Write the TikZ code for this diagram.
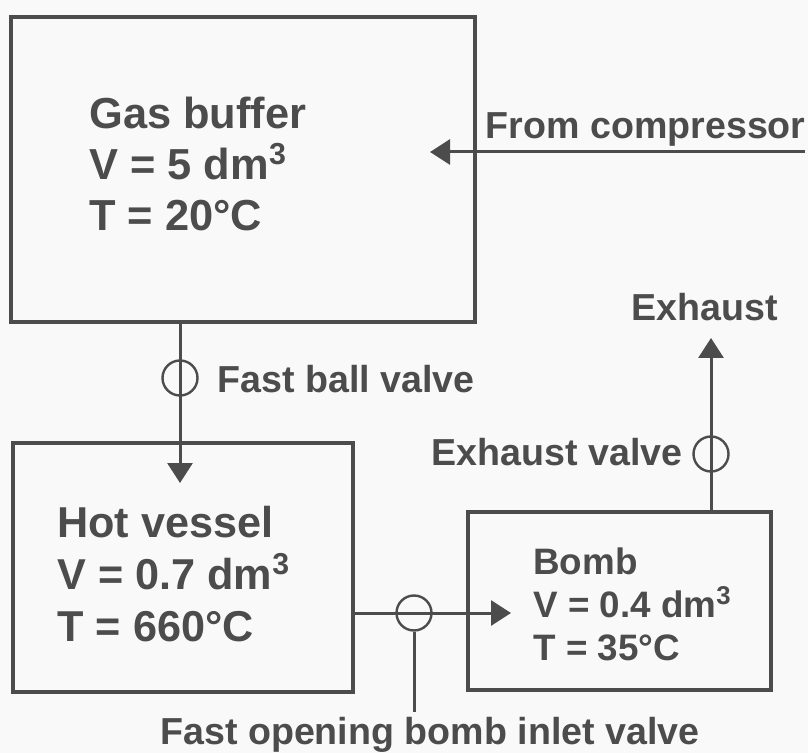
\documentclass[tikz,border=0pt]{standalone}
\usepackage{fontspec}
\setmainfont{Liberation Sans}
\usetikzlibrary{arrows,arrows.meta,calc}
\definecolor{ink}{gray}{0.3}
\definecolor{paper}{gray}{0.975}
\tikzset{%
        x = 0.5pt,
        y = -0.5pt,
        every node/.style = {text = ink, font = \bfseries, inner sep = 0pt},
        vessel/.style = {
            draw = ink,
            line width = 1.7pt
        },
        valve/.style = {
            circle,
            draw = ink,
            line width = 1.2pt,
            minimum size = 17.5pt
        },
        pipe/.style = {
            draw = ink,
            line width = 1.5pt
        },
        flow/.style = {
            pipe,
            -{Triangle[length=10pt,width=12.5pt]}
        },
        bigtext/.style = {anchor = west, align = left, font = \bfseries\fontsize{21.7}{25.7}\selectfont},
        midtext/.style = {anchor = west, align = left, font = \bfseries\fontsize{21.6}{26.2}\selectfont},
        smalltext/.style = {anchor = west, align = left, font = \bfseries\fontsize{18.4}{21.5}\selectfont},
        tag/.style = {font = \bfseries\fontsize{18.8}{22}\selectfont}
}

\begin{document}
\begin{tikzpicture}
            \fill[paper] (0,0) rectangle (808,753);
            \useasboundingbox (0,0) rectangle (808,753);

            \node[vessel, minimum width = 232pt, minimum height = 152.5pt] (buffer) at (243,169.5) {};
            \node[vessel, minimum width = 170pt, minimum height = 124.5pt] (hot) at (183,567.5) {};
            \node[vessel, minimum width = 151.5pt, minimum height = 89pt] (bomb) at (619.5,601) {};

            \node[bigtext] (buffertext) at (89,164) {Gas buffer\\V = 5 dm\textsuperscript{3}\\T = 20°C};
            \node[midtext] (hottext) at (57,574) {Hot vessel\\V = 0.7 dm\textsuperscript{3}\\T = 660°C};
            \node[smalltext] (bombtext) at (533,604) {Bomb\\V = 0.4 dm\textsuperscript{3}\\T = 35°C};

            \node[valve] (ball) at (180,378) {};
            \node[valve] (inlet) at (414,613) {};
            \node[valve] (exhaust) at (711,454) {};

            \node[tag, anchor = west] (balltext) at (217,379) {Fast ball valve};
            \node[tag, anchor = east] (exhausttext) at (683,452) {Exhaust valve};
            \node[tag, anchor = west] (inlettext) at (160,735) {Fast opening bomb inlet valve};
            \node[tag, anchor = east] (comptext) at (806,129) {From compressor};
            \node[tag] (outtext) at (705,307) {Exhaust};

            \coordinate (compin) at (805,152);
            \coordinate (comptip) at (430,152);
            \coordinate (balltip) at (180,483);
            \coordinate (inlettip) at (511,613);
            \coordinate (outtip) at (711,338);
            \coordinate (stem) at (414,712);

            \path
            (compin) edge[flow] (comptip)
            (balltip |- buffer.south) edge[flow] (balltip)
            (hot.east |- inlet) edge[flow] (inlettip)
            (inlet.south) edge[pipe] (stem)
            (outtip |- bomb.north) edge[flow] (outtip)
            ;
        \end{tikzpicture}
\end{document}
